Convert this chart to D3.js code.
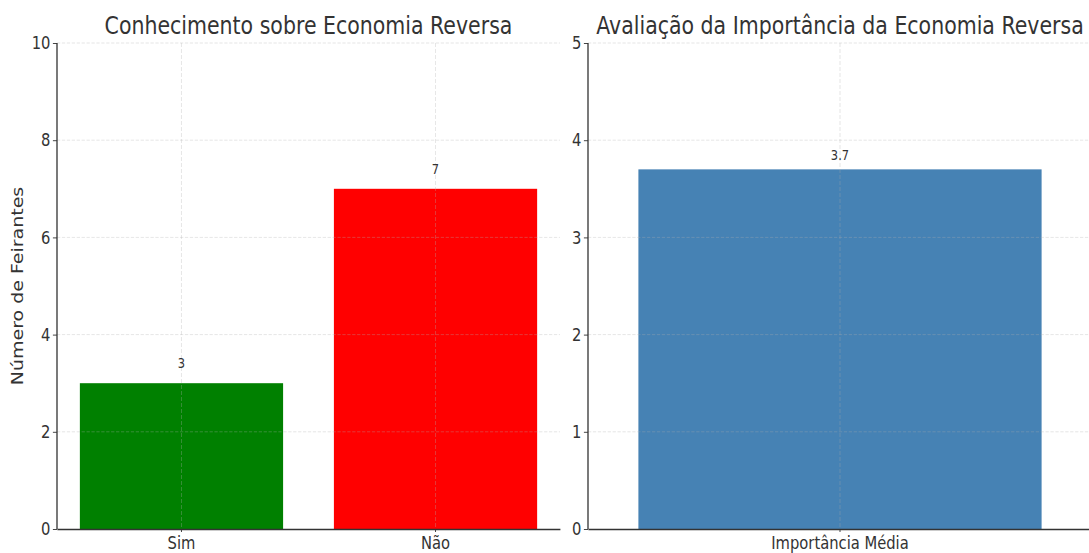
<!DOCTYPE html>
<html>
<head>
<meta charset="utf-8">
<script src="https://cdn.jsdelivr.net/npm/d3@7"></script>
<style>
  body { margin: 0; background: #fff; }
  text { font-family: "DejaVu Sans", sans-serif; fill: #333; }
</style>
</head>
<body>
<svg id="chart"></svg>
<script>
// data
var knowCategories = ["Sim", "Não"];
var knowValues = [3, 7];
var knowColors = ["#008000", "#ff0000"];
var knowTicks = [0, 2, 4, 6, 8, 10];

var impCategories = ["Importância Média"];
var impValues = [3.7];
var impColors = ["#4682b4"];
var impTicks = [0, 1, 2, 3, 4, 5];

// the picture is squeezed sideways, so draw wide and squash with the viewBox
var sx = 0.82;
var W = 1089 / sx, H = 553;
var svg = d3.select("#chart")
    .attr("width", 1089).attr("height", 553)
    .attr("viewBox", "0 0 " + W + " " + H)
    .attr("preserveAspectRatio", "none");

function panel(opt) {
    var g = svg.append("g");
    var x = d3.scaleBand()
        .domain(opt.categories)
        .range([opt.x0, opt.x1])
        .paddingInner(0.2)
        .paddingOuter(opt.outer);
    var y = d3.scaleLinear().domain([0, opt.ymax]).range([529, 43]);

    // bars
    g.selectAll("rect.bar")
        .data(opt.values)
        .enter().append("rect")
        .attr("class", "bar")
        .attr("x", function (d, i) { return x(opt.categories[i]); })
        .attr("width", x.bandwidth())
        .attr("y", function (d) { return y(d); })
        .attr("height", function (d) { return y(0) - y(d); })
        .attr("fill", function (d, i) { return opt.colors[i]; });

    // grid on top of bars, faint
    g.selectAll("line.hgrid")
        .data(opt.ticks.slice(1))
        .enter().append("line")
        .attr("class", "hgrid")
        .attr("x1", opt.x0).attr("x2", opt.x1)
        .attr("y1", function (d) { return y(d); })
        .attr("y2", function (d) { return y(d); })
        .attr("stroke", "#b0b0b0").attr("stroke-opacity", 0.35)
        .attr("stroke-dasharray", "4,2");
    g.selectAll("line.vgrid")
        .data(opt.categories)
        .enter().append("line")
        .attr("class", "vgrid")
        .attr("x1", function (d) { return x(d) + x.bandwidth() / 2; })
        .attr("x2", function (d) { return x(d) + x.bandwidth() / 2; })
        .attr("y1", y(opt.ymax)).attr("y2", y(0))
        .attr("stroke", "#b0b0b0").attr("stroke-opacity", 0.35)
        .attr("stroke-dasharray", "4,2");

    // value labels
    g.selectAll("text.val")
        .data(opt.values)
        .enter().append("text")
        .attr("class", "val")
        .attr("x", function (d, i) { return x(opt.categories[i]) + x.bandwidth() / 2; })
        .attr("y", function (d) { return y(d) - opt.labelGap; })
        .attr("text-anchor", "middle")
        .attr("font-size", 14)
        .attr("fill", "#444")
        .text(function (d) { return d; });

    // axes
    var yAxis = d3.axisLeft(y).tickValues(opt.ticks).tickFormat(d3.format("d"))
        .tickSize(5).tickPadding(3);
    var ga = g.append("g").attr("transform", "translate(" + opt.x0 + ",0)").call(yAxis);
    var xAxis = d3.axisBottom(x).tickSize(3).tickPadding(4).tickSizeOuter(0);
    var gb = g.append("g").attr("transform", "translate(0," + y(0) + ")").call(xAxis);
    [ga, gb].forEach(function (a) {
        a.select(".domain").attr("stroke", "#333").attr("stroke-width", 1.6);
        a.selectAll(".tick line").attr("stroke", "#333");
        a.selectAll(".tick text").attr("font-size", 18).attr("fill", "#333")
            .style("font-family", "DejaVu Sans, sans-serif");
    });
    ga.select(".domain").attr("d", "M0," + y(opt.ymax) + "V" + y(0));

    // title
    g.append("text")
        .attr("x", (opt.x0 + opt.x1) / 2)
        .attr("y", 34)
        .attr("text-anchor", "middle")
        .attr("font-size", 25)
        .attr("fill", "#333")
        .text(opt.title);
    return g;
}

panel({
    categories: knowCategories, values: knowValues, colors: knowColors,
    ticks: knowTicks, ymax: 10, x0: 57 / sx, x1: 560 / sx, outer: 0.09,
    labelGap: 15, title: "Conhecimento sobre Economia Reversa"
});
panel({
    categories: impCategories, values: impValues, colors: impColors,
    ticks: impTicks, ymax: 5, x0: 588 / sx, x1: 1092 / sx, outer: 0.1,
    labelGap: 9, title: "Avaliação da Importância da Economia Reversa"
});

// y label for the first panel
svg.append("text")
    .attr("transform", "translate(" + (23 / sx) + ",286) rotate(-90)")
    .attr("text-anchor", "middle")
    .attr("font-size", 19)
    .attr("fill", "#333")
    .text("Número de Feirantes");
</script>
</body>
</html>
